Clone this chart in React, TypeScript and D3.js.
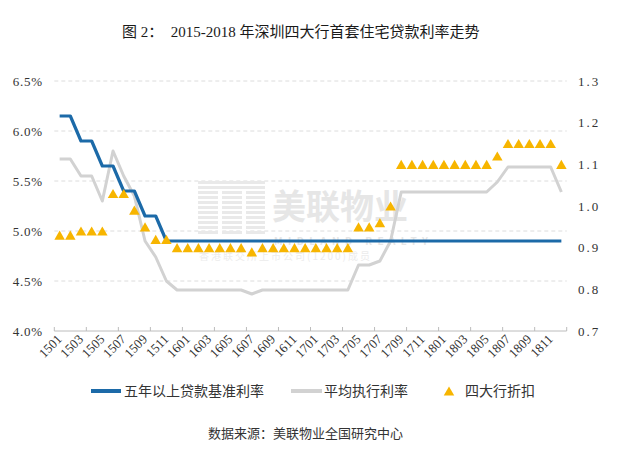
import React from 'react';
import * as d3 from 'd3';

// 月份（1501 = 2015年1月）
const months = [
  '1501', '1502', '1503', '1504', '1505', '1506', '1507', '1508', '1509', '1510', '1511', '1512',
  '1601', '1602', '1603', '1604', '1605', '1606', '1607', '1608', '1609', '1610', '1611', '1612',
  '1701', '1702', '1703', '1704', '1705', '1706', '1707', '1708', '1709', '1710', '1711', '1712',
  '1801', '1802', '1803', '1804', '1805', '1806', '1807', '1808', '1809', '1810', '1811', '1812',
];

// 五年以上贷款基准利率 (%)
const baseRate = [
  6.15, 6.15, 5.9, 5.9, 5.65, 5.65, 5.4, 5.4, 5.15, 5.15, 4.9, 4.9,
  4.9, 4.9, 4.9, 4.9, 4.9, 4.9, 4.9, 4.9, 4.9, 4.9, 4.9, 4.9,
  4.9, 4.9, 4.9, 4.9, 4.9, 4.9, 4.9, 4.9, 4.9, 4.9, 4.9, 4.9,
  4.9, 4.9, 4.9, 4.9, 4.9, 4.9, 4.9, 4.9, 4.9, 4.9, 4.9, 4.9,
];

// 平均执行利率 (%)
const avgRate = [
  5.72, 5.72, 5.55, 5.55, 5.3, 5.8, 5.55, 5.35, 4.9, 4.74, 4.5, 4.41,
  4.41, 4.41, 4.41, 4.41, 4.41, 4.41, 4.37, 4.41, 4.41, 4.41, 4.41, 4.41,
  4.41, 4.41, 4.41, 4.41, 4.66, 4.66, 4.7, 4.9, 5.39, 5.39, 5.39, 5.39,
  5.39, 5.39, 5.39, 5.39, 5.39, 5.49, 5.64, 5.64, 5.64, 5.64, 5.64, 5.39,
];

// 四大行折扣（右轴）
const discount = [
  0.93, 0.93, 0.94, 0.94, 0.94, 1.03, 1.03, 0.99, 0.95, 0.92, 0.92, 0.9,
  0.9, 0.9, 0.9, 0.9, 0.9, 0.9, 0.89, 0.9, 0.9, 0.9, 0.9, 0.9,
  0.9, 0.9, 0.9, 0.9, 0.95, 0.95, 0.96, 1.0, 1.1, 1.1, 1.1, 1.1,
  1.1, 1.1, 1.1, 1.1, 1.1, 1.12, 1.15, 1.15, 1.15, 1.15, 1.15, 1.1,
];

const leftTicks = [4.0, 4.5, 5.0, 5.5, 6.0, 6.5];
const rightTicks = [0.7, 0.8, 0.9, 1.0, 1.1, 1.2, 1.3];

const BLUE = '#1c6aa8';
const GRAY = '#d2d2d2';
const GOLD = '#f7b500';
const NUM_FONT = "'Liberation Serif', 'DejaVu Serif', 'Noto Sans CJK SC', serif";
const CJK_FONT = "'Noto Sans CJK SC', sans-serif";

export default function App() {
  const width = 640;
  const height = 465;

  const x = d3.scaleBand<string>().domain(months).range([54.3, 566.7]);
  const yL = d3.scaleLinear().domain([4.0, 6.5]).range([331, 81]);
  const yR = d3.scaleLinear().domain([0.7, 1.3]).range([331, 81]);
  const cx = (i: number) => (x(months[i]) as number) + x.bandwidth() / 2;

  const leftLine = d3
    .line<number>()
    .x((_, i) => cx(i))
    .y((d) => yL(d));

  const triSize = 48;
  const tri = d3.symbol().type(d3.symbolTriangle).size(triSize)() as string;
  const triH = Math.sqrt(triSize * Math.sqrt(3));
  const triShift = triH / 6;

  const [x0, x1] = x.range();
  const tickIdx = d3.range(0, months.length + 1, 3);
  const tickX = (i: number) => (i < months.length ? (x(months[i]) as number) : x1);

  const num = { fontFamily: NUM_FONT };
  const cjk = { fontFamily: CJK_FONT };

  return (
    <svg
      width={width}
      height={height}
      style={{ position: 'absolute', left: 0, top: 0, background: '#fff' }}
    >
      <rect width={width} height={height} fill="#fff" />

      {/* 标题 */}
      <text x={122} y={37} style={{ ...num, whiteSpace: 'pre' }} fontSize={15} fill="#1a1a1a">
        {'图 2：  2015-2018 年深圳四大行首套住宅贷款利率走势'}
      </text>

      {/* 网格线 */}
      {leftTicks.slice(1).map((t) => (
        <line
          key={t}
          x1={x0}
          x2={x1}
          y1={yL(t)}
          y2={yL(t)}
          stroke="#dcdcdc"
          strokeDasharray="4,3"
        />
      ))}

      {/* 水印 */}
      <g>
        {d3.range(0, 11).map((k) => (
          <rect key={k} x={198} y={181 + k * 5} width={67} height={3} fill="#e9e9e9" />
        ))}
        <rect x={218} y={190} width={4} height={50} fill="#fff" />
        <rect x={242} y={190} width={4} height={50} fill="#fff" />
        <text x={272} y={219} style={cjk} fontWeight="bold" fontSize={34} fill="#e6e6e6">
          美联物业
        </text>
        <text x={274} y={245} style={cjk} fontWeight="bold" fontSize={10} letterSpacing={5.4} fill="#e6e6e6">
          MIDLAND REALTY
        </text>
        <text x={199} y={260} style={cjk} fontSize={10} letterSpacing={2} fill="#ececec">
          香港联交所上市公司(1200)成员
        </text>
      </g>

      {/* X 轴 */}
      <line x1={x0} x2={x1} y1={331} y2={331} stroke="#bcbcbc" />
      {tickIdx.map((i) => (
        <line key={i} x1={tickX(i)} x2={tickX(i)} y1={327} y2={331} stroke="#bcbcbc" />
      ))}
      {months.map((m, i) =>
        i % 2 === 0 ? (
          <text
            key={m}
            transform={`translate(${cx(i) + 3},${340}) rotate(-45)`}
            textAnchor="end"
            style={num}
            fontSize={13}
            fill="#333"
          >
            {m}
          </text>
        ) : null
      )}

      {/* 左轴标签 */}
      {leftTicks.map((t) => (
        <text
          key={t}
          x={43}
          y={yL(t) + 4.5}
          textAnchor="end"
          style={num}
          fontSize={13}
          letterSpacing={0.8}
          fill="#333"
        >
          {t.toFixed(1) + '%'}
        </text>
      ))}

      {/* 右轴标签 */}
      {rightTicks.map((t) => (
        <text key={t} x={578} y={yR(t) + 4.5} style={num} fontSize={13} letterSpacing={2} fill="#333">
          {t.toFixed(1)}
        </text>
      ))}

      {/* 平均执行利率 */}
      <path d={leftLine(avgRate) as string} fill="none" stroke={GRAY} strokeWidth={3} strokeLinejoin="round" />

      {/* 五年以上贷款基准利率 */}
      <path d={leftLine(baseRate) as string} fill="none" stroke={BLUE} strokeWidth={3.2} strokeLinejoin="round" />

      {/* 四大行折扣 */}
      {discount.map((d, i) => (
        <path key={i} d={tri} transform={`translate(${cx(i)},${yR(d) + triShift})`} fill={GOLD} />
      ))}

      {/* 图例 */}
      <line x1={91} x2={121} y1={391} y2={391} stroke={BLUE} strokeWidth={4} />
      <text x={124} y={396} style={cjk} fontSize={14} fill="#333">
        五年以上贷款基准利率
      </text>
      <line x1={291} x2={322} y1={391} y2={391} stroke={GRAY} strokeWidth={4} />
      <text x={324} y={396} style={cjk} fontSize={14} fill="#333">
        平均执行利率
      </text>
      <path d={tri} transform={`translate(449,${391 + triShift})`} fill={GOLD} />
      <text x={465} y={396} style={cjk} fontSize={14} fill="#333">
        四大行折扣
      </text>

      {/* 数据来源 */}
      <text x={208} y={438} style={cjk} fontSize={13} fill="#333">
        数据来源：美联物业全国研究中心
      </text>
    </svg>
  );
}
